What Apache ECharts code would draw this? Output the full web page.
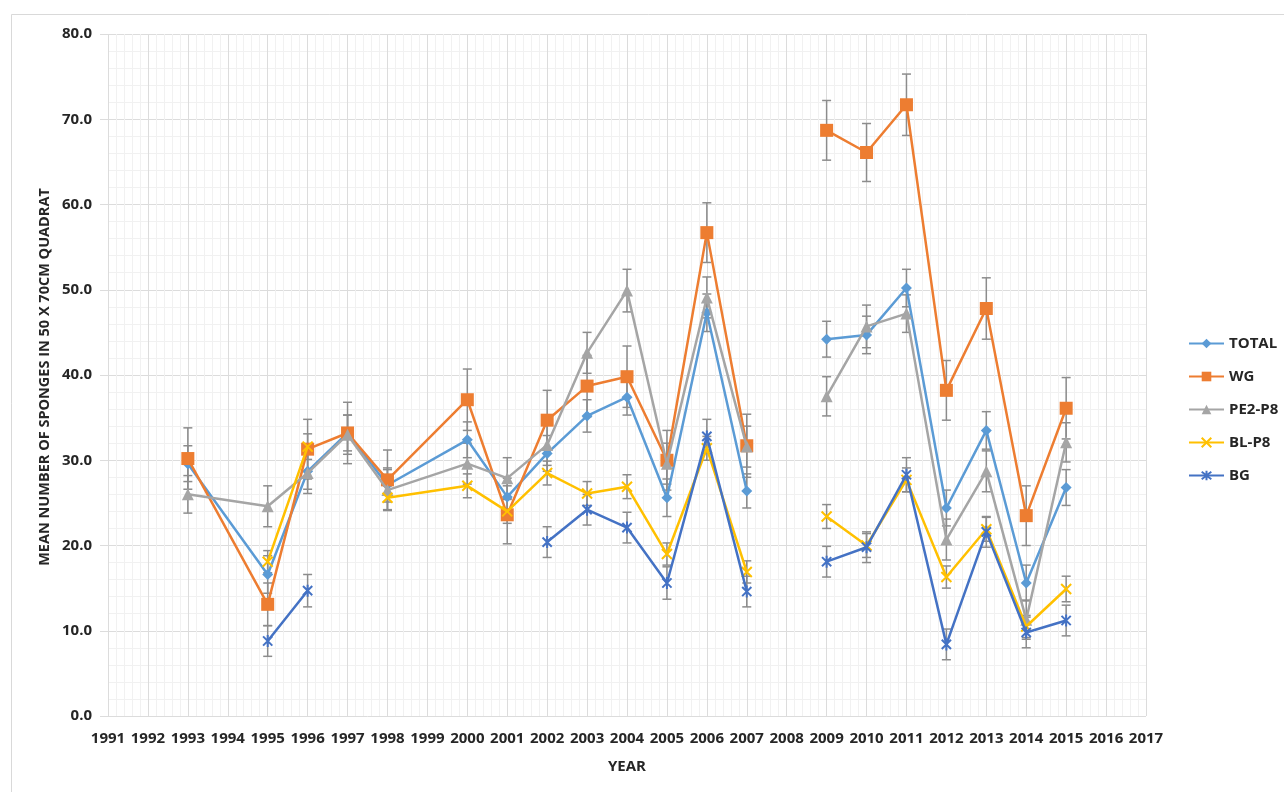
<!DOCTYPE html>
<html>
<head>
<meta charset="utf-8">
<title>Sponge density by year</title>
<script src="https://cdn.jsdelivr.net/npm/echarts@6/dist/echarts.min.js"></script>
<style>
  html, body { margin: 0; padding: 0; background: #ffffff; }
  #chart { width: 1284px; height: 792px; }
</style>
</head>
<body>
<div id="chart"></div>
<script>
// Survey years (2008 was not sampled; 1999 has no entry at all)
const years = [1993, 1995, 1996, 1997, 1998, 2000, 2001, 2002, 2003, 2004, 2005, 2006, 2007, 2008, 2009, 2010, 2011, 2012, 2013, 2014, 2015];

// Mean number of sponges per quadrat, by site group
const total  = [29.6, 16.6, 28.7, 33.2, 27.1, 32.4, 25.7, 30.8, 35.2, 37.4, 25.6, 47.3, 26.4, null, 44.2, 44.7, 50.2, 24.4, 33.5, 15.6, 26.8];
const wg     = [30.2, 13.1, 31.3, 33.2, 27.7, 37.1, 23.6, 34.7, 38.7, 39.8, 30.0, 56.7, 31.7, null, 68.7, 66.1, 71.7, 38.2, 47.8, 23.5, 36.1];
const pe2p8  = [26.0, 24.6, 28.5, 33.0, 26.5, 29.6, 27.9, 31.8, 42.6, 49.9, 29.6, 49.1, 31.6, null, 37.5, 45.7, 47.2, 20.7, 28.7, 11.3, 32.1];
const blp8   = [null, 18.1, 31.6, null, 25.6, 27.0, 24.0, 28.5, 26.1, 26.9, 19.0, 31.4, 16.9, null, 23.4, 20.0, 27.7, 16.3, 21.9, 10.5, 14.9];
const bg     = [null,  8.8, 14.7, null, null, null, null, 20.4, 24.2, 22.1, 15.6, 32.8, 14.6, null, 18.1, 19.8, 28.3,  8.4, 21.6,  9.8, 11.2];

// Standard errors (error bar half-lengths)
const totalErr = [2.1, 2.2, 2.1, 2.1, 2.0, 2.1, 2.2, 2.1, 1.9, 2.1, 2.2, 2.2, 2.0, null, 2.1, 2.2, 2.2, 2.1, 2.2, 2.1, 2.1];
const wgErr    = [3.6, 2.5, 3.5, 3.6, 3.5, 3.6, 3.4, 3.5, 3.6, 3.6, 3.5, 3.5, 3.7, null, 3.5, 3.4, 3.6, 3.5, 3.6, 3.5, 3.6];
const pe2p8Err = [2.2, 2.4, 2.4, 2.3, 2.4, 2.4, 2.4, 2.4, 2.4, 2.5, 2.4, 2.4, 2.4, null, 2.3, 2.5, 2.2, 2.4, 2.4, 2.3, 2.3];
const blp8Err  = [null, 1.3, 1.5, null, 1.4, 1.4, 1.4, 1.4, 1.4, 1.4, 1.3, 1.4, 1.3, null, 1.4, 1.4, 1.4, 1.3, 1.4, 1.3, 1.5];
const bgErr    = [null, 1.8, 1.9, null, null, null, null, 1.8, 1.8, 1.8, 1.9, 2.0, 1.8, null, 1.8, 1.8, 2.0, 1.8, 1.8, 1.8, 1.8];

const seriesNames = ['TOTAL', 'WG', 'PE2-P8', 'BL-P8', 'BG'];
const colors = ['#5B9BD5', '#ED7D31', '#A5A5A5', '#FFC000', '#4472C4'];

const xTitle = 'YEAR';
const yTitle = 'MEAN NUMBER OF SPONGES IN 50 X 70CM QUADRAT';

const FONT = '"Open Sans", "DejaVu Sans", sans-serif';
const TEXT_COLOR = '#262626';

// Open-path marker shapes: a cross, and a cross with a vertical stroke
const crossPath = 'path://M0,0L10,10M10,0L0,10';
const starPath = 'path://M0,0L10,10M10,0L0,10M5,-1.5L5,11.5';

const valueSets = [total, wg, pe2p8, blp8, bg];
const errSets = [totalErr, wgErr, pe2p8Err, blp8Err, bgErr];
const symbols = ['diamond', 'rect', 'triangle', crossPath, starPath];
const symbolSizes = [11, 13, 12, 10, 12];

function lineData(values) {
  return years.map((y, i) => [y, values[i] == null ? '-' : values[i]]);
}

function errData(values, errs) {
  const out = [];
  years.forEach((y, i) => {
    if (values[i] != null && errs[i] != null) {
      out.push([y, values[i] - errs[i], values[i] + errs[i]]);
    }
  });
  return out;
}

function renderErrorBar(params, api) {
  const x = api.value(0);
  const lo = api.coord([x, api.value(1)]);
  const hi = api.coord([x, api.value(2)]);
  const cap = 4.5;
  const style = { stroke: '#8C8C8C', lineWidth: 1.5 };
  return {
    type: 'group',
    children: [
      { type: 'line', shape: { x1: lo[0], y1: lo[1], x2: hi[0], y2: hi[1] }, style },
      { type: 'line', shape: { x1: hi[0] - cap, y1: hi[1], x2: hi[0] + cap, y2: hi[1] }, style },
      { type: 'line', shape: { x1: lo[0] - cap, y1: lo[1], x2: lo[0] + cap, y2: lo[1] }, style }
    ]
  };
}

const series = [];
seriesNames.forEach((name, k) => {
  series.push({
    type: 'custom',
    name: name + ' error',
    renderItem: renderErrorBar,
    data: errData(valueSets[k], errSets[k]),
    encode: { x: 0, y: [1, 2] },
    z: 2,
    silent: true
  });
});
seriesNames.forEach((name, k) => {
  const isOpen = k >= 3;
  series.push({
    type: 'line',
    name: name,
    data: lineData(valueSets[k]),
    connectNulls: false,
    symbol: symbols[k],
    symbolSize: symbolSizes[k],
    symbolKeepAspect: true,
    showAllSymbol: true,
    lineStyle: { color: colors[k], width: 2.5 },
    itemStyle: isOpen
      ? { color: colors[k], borderColor: colors[k], borderWidth: 2 }
      : { color: colors[k], borderColor: colors[k], borderWidth: 0 },
    emphasis: { disabled: true },
    z: 3 + k
  });
});

const chart = echarts.init(document.getElementById('chart'), null, { renderer: 'canvas' });

chart.setOption({
  animation: false,
  backgroundColor: '#ffffff',
  grid: { left: 108, right: 138, top: 34, bottom: 76, containLabel: false },
  xAxis: {
    type: 'value',
    min: 1991,
    max: 2017,
    interval: 1,
    axisLine: { show: false },
    axisTick: { show: false },
    axisLabel: {
      formatter: (v) => String(v),
      fontFamily: FONT,
      fontWeight: 'bold',
      fontSize: 15,
      color: TEXT_COLOR,
      margin: 15
    },
    splitLine: { show: true, lineStyle: { color: '#DCDCDC', width: 1 } },
    minorTick: { show: false, splitNumber: 5 },
    minorSplitLine: { show: true, lineStyle: { color: '#F1F1F1', width: 1 } }
  },
  yAxis: {
    type: 'value',
    min: 0,
    max: 80,
    interval: 10,
    axisLine: { show: false },
    axisTick: { show: true, inside: false, length: 8, lineStyle: { color: '#DCDCDC' } },
    axisLabel: {
      formatter: (v) => v.toFixed(1),
      fontFamily: FONT,
      fontWeight: 'bold',
      fontSize: 15,
      color: TEXT_COLOR,
      margin: 16
    },
    splitLine: { show: true, lineStyle: { color: '#DCDCDC', width: 1 } },
    minorTick: { show: false, splitNumber: 5 },
    minorSplitLine: { show: true, lineStyle: { color: '#F1F1F1', width: 1 } }
  },
  legend: {
    orient: 'vertical',
    left: 1188,
    top: 336,
    padding: 0,
    itemWidth: 35,
    itemHeight: 12,
    itemGap: 18,
    data: seriesNames,
    selectedMode: false,
    textStyle: {
      fontFamily: FONT,
      fontWeight: 'bold',
      fontSize: 15,
      color: TEXT_COLOR,
      padding: [0, 0, 0, 0]
    }
  },
  graphic: [
    {
      type: 'rect',
      shape: { x: 11.5, y: 14.5, width: 1320, height: 820 },
      style: { fill: 'none', stroke: '#D9D9D9', lineWidth: 1 },
      silent: true,
      z: -1
    },
    {
      type: 'text',
      x: 627,
      y: 767,
      style: {
        text: xTitle,
        fontFamily: FONT,
        fontWeight: 'bold',
        fontSize: 15,
        fill: TEXT_COLOR,
        align: 'center',
        verticalAlign: 'middle'
      }
    },
    {
      type: 'text',
      x: 45,
      y: 377,
      rotation: Math.PI / 2,
      style: {
        text: yTitle,
        fontFamily: FONT,
        fontWeight: 'bold',
        fontSize: 14.5,
        fill: TEXT_COLOR,
        align: 'center',
        verticalAlign: 'middle'
      }
    }
  ],
  series: series
});
</script>
</body>
</html>
